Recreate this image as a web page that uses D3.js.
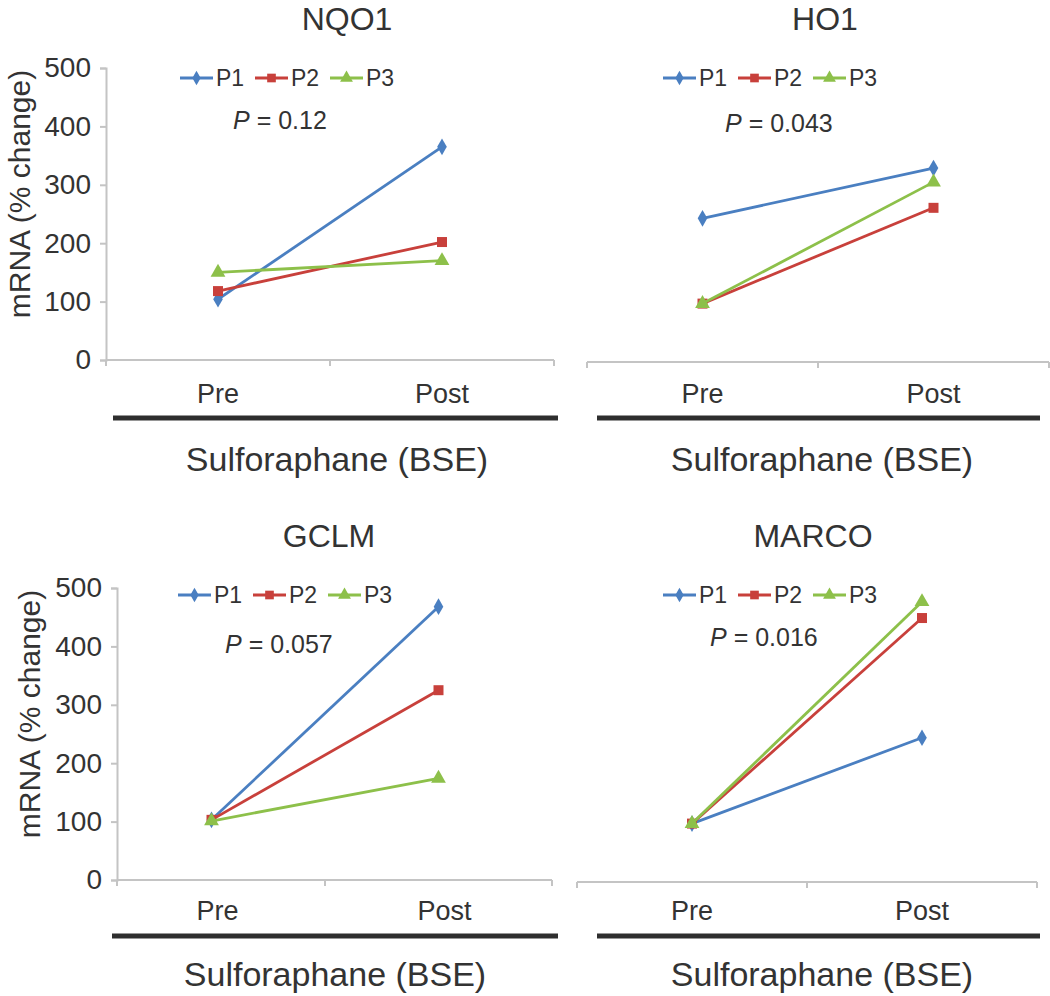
<!DOCTYPE html>
<html>
<head>
<meta charset="utf-8">
<script src="https://cdn.jsdelivr.net/npm/d3@7"></script>
<style>
  html, body { margin: 0; padding: 0; background: #fff; }
  svg { display: block; }
  text { font-family: "Liberation Sans", Arial, sans-serif; fill: #333; }
</style>
</head>
<body>
<svg id="chart" width="1050" height="996"></svg>
<script>
// ---------- DATA ----------
const genes = ["NQO1", "HO1", "GCLM", "MARCO"];
const pValues = ["0.12", "0.043", "0.057", "0.016"];
const categories = ["Pre", "Post"];
const seriesNames = ["P1", "P2", "P3"];
const yTicks = [0, 100, 200, 300, 400, 500];
const groupLabel = "Sulforaphane (BSE)";
const yLabel = "mRNA (% change)";
// rows: P1, P2, P3 ; columns: Pre, Post
const nqo1Values  = [[104, 365], [118, 202], [150, 170]];
const ho1Values   = [[246, 332], [100, 264], [100, 308]];
const gclmValues  = [[103, 468], [103, 325], [101, 174]];
const marcoValues = [[100, 247], [100, 452], [100, 480]];
const geneValues = [nqo1Values, ho1Values, gclmValues, marcoValues];

// ---------- STYLE / LAYOUT ----------
const colors = ["#4a7fc1", "#c8403b", "#8dc04a"];
const symbols = [d3.symbolDiamond, d3.symbolSquare, d3.symbolTriangle];
const symbolSizes = [80, 100, 95];
const layout = [
  {left: 106, right: 554, bandL: 106, bandR: 554, y0: 360, y500: 68, showY: true,
   titleX: 347, titleY: 30, legX: 180, legY: 78, pX: 233, pY: 129,
   brL: 113, brR: 558, brY: 418, catY: 403, grpX: 337, grpY: 471, ylabX: 30, ylabY: 194},
  {left: 587, right: 1049, bandL: 587, bandR: 1049, y0: 362, y500: 70, showY: false,
   titleX: 825, titleY: 30, legX: 663, legY: 78, pX: 725, pY: 132,
   brL: 597, brR: 1040, brY: 418, catY: 403, grpX: 822, grpY: 471},
  {left: 117, right: 552, bandL: 98, bandR: 552, y0: 880, y500: 588, showY: true,
   titleX: 329, titleY: 547, legX: 178, legY: 595, pX: 225, pY: 653,
   brL: 112, brR: 558, brY: 936, catY: 920, grpX: 335, grpY: 986, ylabX: 40, ylabY: 714},
  {left: 577, right: 1037, bandL: 577, bandR: 1037, y0: 882, y500: 590, showY: false,
   titleX: 813, titleY: 547, legX: 663, legY: 595, pX: 710, pY: 646,
   brL: 597, brR: 1040, brY: 936, catY: 920, grpX: 822, grpY: 986}
];

const svg = d3.select("#chart");

genes.forEach((gene, gi) => {
  const L = layout[gi];
  const g = svg.append("g");
  const x = d3.scaleBand().domain(categories).range([L.bandL, L.bandR]).padding(0);
  const y = d3.scaleLinear().domain([0, 500]).range([L.y0, L.y500]);
  const cx = d => x(d) + x.bandwidth() / 2;

  // y axis
  if (L.showY) {
    const ya = g.append("g").attr("transform", `translate(${L.left},0)`)
      .call(d3.axisLeft(y).tickValues(yTicks).tickSize(6).tickSizeOuter(6).tickPadding(9));
    ya.select(".domain").attr("stroke", "#c4c4c4").attr("stroke-width", 2);
    ya.selectAll(".tick line").attr("stroke", "#c4c4c4").attr("stroke-width", 2);
    ya.selectAll(".tick text").style("font-size", "28px").attr("fill", "#333")
      .style("font-family", '"Liberation Sans", Arial, sans-serif');
    g.append("text")
      .attr("transform", `translate(${L.ylabX},${L.ylabY}) rotate(-90)`)
      .attr("text-anchor", "middle")
      .style("font-size", "30px")
      .text(yLabel);
  }

  // x axis line with boundary ticks
  const bounds = [L.left, x(categories[1]), L.right];
  g.append("line").attr("x1", L.left).attr("x2", L.right)
    .attr("y1", L.y0).attr("y2", L.y0)
    .attr("stroke", "#c4c4c4").attr("stroke-width", 2);
  g.selectAll(".xtick").data(bounds).join("line")
    .attr("x1", d => d).attr("x2", d => d)
    .attr("y1", L.y0).attr("y2", L.y0 + 6)
    .attr("stroke", "#c4c4c4").attr("stroke-width", 2);
  g.selectAll(".cat").data(categories).join("text")
    .attr("x", d => cx(d) + (L.bandL < L.left ? 6 : 0))
    .attr("y", L.catY)
    .attr("text-anchor", "middle")
    .style("font-size", "27px")
    .text(d => d);

  // group bracket
  g.append("line").attr("x1", L.brL).attr("x2", L.brR)
    .attr("y1", L.brY).attr("y2", L.brY)
    .attr("stroke", "#2e2e2e").attr("stroke-width", 5);
  g.append("text").attr("x", L.grpX).attr("y", L.grpY)
    .attr("text-anchor", "middle").style("font-size", "34px")
    .text(groupLabel);

  // title
  g.append("text").attr("x", L.titleX).attr("y", L.titleY)
    .attr("text-anchor", "middle").style("font-size", "32px")
    .text(gene);

  // series
  const lineGen = d3.line().x((d, i) => cx(categories[i])).y(d => y(d));
  geneValues[gi].forEach((vals, si) => {
    g.append("path").datum(vals).attr("d", lineGen)
      .attr("fill", "none").attr("stroke", colors[si]).attr("stroke-width", 2.8);
    g.selectAll(".m" + si).data(vals).join("path")
      .attr("transform", (d, i) => `translate(${cx(categories[i])},${y(d)})`)
      .attr("d", d3.symbol().type(symbols[si]).size(symbolSizes[si]))
      .attr("fill", colors[si]);
  });

  // legend
  seriesNames.forEach((name, si) => {
    const lx = L.legX + si * 75;
    g.append("line").attr("x1", lx).attr("x2", lx + 33)
      .attr("y1", L.legY).attr("y2", L.legY)
      .attr("stroke", colors[si]).attr("stroke-width", 2.8);
    g.append("path")
      .attr("transform", `translate(${lx + 16.5},${L.legY})`)
      .attr("d", d3.symbol().type(symbols[si]).size(symbolSizes[si] * 0.75))
      .attr("fill", colors[si]);
    g.append("text").attr("x", lx + 36).attr("y", L.legY + 8)
      .style("font-size", "23px").text(name);
  });

  // p-value
  const pt = g.append("text").attr("x", L.pX).attr("y", L.pY).style("font-size", "25px");
  pt.append("tspan").style("font-style", "italic").text("P");
  pt.append("tspan").text(" = " + pValues[gi]);
});
</script>
</body>
</html>
